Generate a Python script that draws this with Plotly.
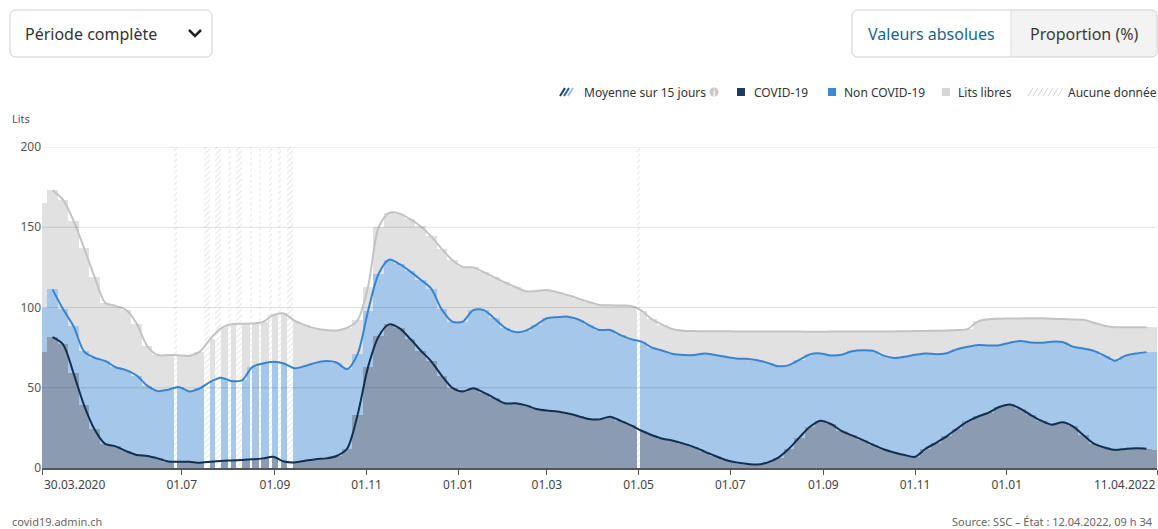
import plotly.graph_objects as go
import pandas as pd

# ---------------- data (weekly readings, 15-day average level) ----------------
start_date = "2020-03-30"
end_date = "2022-04-11"

covid = [72, 81.5, 77, 59, 39, 24, 15, 13.5, 10.5, 8.1,
         7.5, 6, 4, 3.9, 3.9, 3.3, 3.9, 4.4, 4.7, 5,
         5.4, 6, 7, 4, 3.5, 4.5, 5.5, 6, 7.5, 12,
         33, 63, 82, 89.5, 87, 80.5, 73.2, 66.5, 57.5, 50,
         47.6, 49.7, 47, 43.6, 40.3, 40.3, 39, 36.8, 35.8, 35.2,
         33.9, 32.3, 30.5, 30.3, 32, 29.4, 26.6, 23.2, 20.4, 18.2,
         17, 15.2, 13, 10.2, 7.5, 5, 3.5, 2.6, 2.2, 3.5,
         6.5, 12, 19, 25.7, 29.5, 27.4, 23.2, 20.3, 17.5, 14.5,
         11.7, 9.7, 8.1, 7, 12, 15.7, 19.7, 24.5, 29, 32.1,
         34.5, 38, 39.6, 37, 33, 29.5, 27, 28.5, 26, 20.5,
         15.2, 12.8, 11.3, 11.9, 12.3, 12, 11]

# occupied beds = COVID-19 + Non COVID-19
occupied = [100, 111.3, 99, 88.3, 72.6, 68.7, 66.7, 62.8, 61, 57.6,
            51.3, 47.9, 48.8, 50.5, 47.7, 49.6, 53.7, 56.3, 54.2, 54.6,
            62.9, 65.1, 66.2, 65.1, 62.2, 63.5, 65.5, 66.6, 65.7, 61.6,
            71, 98, 121, 129.8, 127, 122.5, 117.3, 111.8, 98.8, 91.2,
            91.2, 98.4, 98.4, 93.2, 87.5, 84.7, 85.6, 89.2, 93.3, 94,
            94.3, 92.5, 89, 86, 86, 82.8, 80.3, 78.7, 75, 73.1,
            71, 70.4, 70.4, 71.4, 70.4, 69.3, 68.3, 68, 67.1, 65.5,
            63.4, 64.1, 67.4, 70.8, 71.4, 70.1, 70.5, 72.7, 73.4, 73,
            70, 68.6, 69.3, 70.5, 71.4, 70.9, 71.5, 74, 75.5, 76.6,
            76.3, 76.5, 78.1, 79.1, 78.2, 78, 78.7, 78.5, 75.6, 74.4,
            73, 70, 66.9, 70, 71.3, 72.2, 72]

# total beds = occupied + Lits libres
total = [165, 173, 167, 154, 137, 119, 103, 101, 98.4, 90,
         76, 70.4, 70.4, 70.3, 69.8, 72.5, 80.5, 87, 89.6, 89.8,
         90, 91, 95.3, 96.3, 91.8, 89, 87, 86, 85.7, 87.3,
         92, 113, 150, 159, 158.5, 155, 150.5, 144.3, 136.5, 129.6,
         125.3, 125, 122, 118.8, 115.6, 112.8, 110.1, 110.3, 110.9, 109.5,
         107.7, 105.5, 103.4, 101.6, 101.4, 101.2, 101, 98, 92.6, 89.2,
         86.4, 85.5, 85.3, 85.2, 85.2, 85.2, 85.1, 85, 85, 85,
         85, 85, 85, 84.9, 84.9, 85, 85, 85, 85, 85,
         85, 85.1, 85.2, 85.3, 85.4, 85.5, 85.7, 86, 86.5, 91.4,
         92.7, 93, 93.1, 93.2, 93.3, 93.3, 93, 92.8, 92.6, 92.3,
         90.5, 88.6, 87.7, 87.7, 87.7, 87.7, 87.7]

no_data_days = ["2020-06-27", "2020-07-17", "2020-07-19", "2020-07-24", "2020-07-26",
                "2020-08-02", "2020-08-07", "2020-08-09", "2020-08-16", "2020-08-22",
                "2020-08-29", "2020-09-04", "2020-09-10", "2020-09-12", "2021-05-01"]

tick_dates = ["2020-03-30", "2020-07-01", "2020-09-01", "2020-11-01", "2021-01-01",
              "2021-03-01", "2021-05-01", "2021-07-01", "2021-09-01", "2021-11-01",
              "2022-01-01", "2022-04-11"]
tick_labels = ["30.03.2020", "01.07", "01.09", "01.11", "01.01", "01.03", "01.05",
               "01.07", "01.09", "01.11", "01.01", "11.04.2022"]
y_ticks = [0, 50, 100, 150, 200]

# ---------------- styling ----------------
FONT = "Noto Sans"
C_COVID_BAR = "#8b9cb2"
C_NONCOVID_BAR = "#a5c7ea"
C_FREE_BAR = "#e1e1e1"
C_COVID_LINE = "#112f50"
C_OCC_LINE = "#3a83cf"
C_TOT_LINE = "#c3c3c3"

W, H = 1158, 529
ML, MR, MT, MB = 42, 1, 147, 61
PW, PH = W - ML - MR, H - MT - MB
DAY = 86400000


def px(x):
    return (x - ML) / PW


def py(y):
    return (H - MB - y) / PH


weeks = pd.date_range(start_date, periods=len(covid), freq="7D")

fig = go.Figure()

bar_common = dict(width=7.05 * DAY, marker_line_width=0, hoverinfo="skip", showlegend=False)
fig.add_trace(go.Bar(x=weeks, y=total, marker_color=C_FREE_BAR, **bar_common))
fig.add_trace(go.Bar(x=weeks, y=occupied, marker_color=C_NONCOVID_BAR, **bar_common))
fig.add_trace(go.Bar(x=weeks, y=covid, marker_color=C_COVID_BAR, **bar_common))

# no-data days (hatched)
fig.add_trace(go.Bar(
    x=pd.to_datetime(no_data_days), y=[y_ticks[-1]] * len(no_data_days),
    width=1.8 * DAY, marker=dict(color="white", line_width=0,
                                 pattern=dict(shape="/", fgcolor="#e6e6e6", bgcolor="white",
                                              fillmode="replace", size=4, solidity=0.25)),
    hoverinfo="skip", showlegend=False))

# 15-day average lines (centered window -> first/last week absent)
line_common = dict(mode="lines", line_shape="spline", hoverinfo="skip", showlegend=False)
fig.add_trace(go.Scatter(x=weeks[1:-1], y=total[1:-1], line=dict(color=C_TOT_LINE, width=2, smoothing=0.8), **line_common))
fig.add_trace(go.Scatter(x=weeks[1:-1], y=occupied[1:-1], line=dict(color=C_OCC_LINE, width=2, smoothing=0.8), **line_common))
fig.add_trace(go.Scatter(x=weeks[1:-1], y=covid[1:-1], line=dict(color=C_COVID_LINE, width=2, smoothing=0.8), **line_common))

shapes = []
# gridlines above bars
for v in y_ticks[1:]:
    shapes.append(dict(type="line", xref="paper", yref="y", x0=0, x1=1, y0=v, y1=v,
                       line=dict(color="rgba(0,0,0,0.12)", width=1), layer="above"))


def rpath(x0, y0, x1, y1, rl, rr):
    p = f"M {px(x0+rl)},{py(y0)} L {px(x1-rr)},{py(y0)} "
    if rr:
        p += f"Q {px(x1)},{py(y0)} {px(x1)},{py(y0+rr)} L {px(x1)},{py(y1-rr)} Q {px(x1)},{py(y1)} {px(x1-rr)},{py(y1)} "
    else:
        p += f"L {px(x1)},{py(y0)} L {px(x1)},{py(y1)} "
    p += f"L {px(x0+rl)},{py(y1)} "
    if rl:
        p += f"Q {px(x0)},{py(y1)} {px(x0)},{py(y1-rl)} L {px(x0)},{py(y0+rl)} Q {px(x0)},{py(y0)} {px(x0+rl)},{py(y0)} "
    else:
        p += f"L {px(x0)},{py(y1)} L {px(x0)},{py(y0)} "
    return p + "Z"


# dropdown box
shapes.append(dict(type="path", xref="paper", yref="paper", path=rpath(10, 10, 212, 57, 6, 6),
                   fillcolor="white", line=dict(color="#cfcfcf", width=1)))
shapes.append(dict(type="path", xref="paper", yref="paper",
                   path=f"M {px(189)},{py(30)} L {px(195)},{py(36)} L {px(201)},{py(30)}",
                   line=dict(color="#222222", width=2.5)))
# toggle buttons
shapes.append(dict(type="path", xref="paper", yref="paper", path=rpath(852, 10, 1157, 57, 6, 6),
                   fillcolor="#f3f3f3", line=dict(width=0)))
shapes.append(dict(type="path", xref="paper", yref="paper", path=rpath(852, 10, 1011, 57, 6, 0),
                   fillcolor="white", line=dict(width=0)))
shapes.append(dict(type="line", xref="paper", yref="paper", x0=px(1011), x1=px(1011), y0=py(10), y1=py(57),
                   line=dict(color="#dddddd", width=1)))
shapes.append(dict(type="path", xref="paper", yref="paper", path=rpath(852, 10, 1157, 57, 6, 6),
                   fillcolor="rgba(0,0,0,0)", line=dict(color="#cfcfcf", width=1)))

# legend symbols
LY = 92
for i, col in enumerate(["#1d3f66", "#2c66a8", "#9dbfe3"]):
    x0 = 560 + 4 * i
    shapes.append(dict(type="line", xref="paper", yref="paper", x0=px(x0), x1=px(x0 + 5),
                       y0=py(LY + 4), y1=py(LY - 4), line=dict(color=col, width=2)))
shapes.append(dict(type="circle", xref="paper", yref="paper", x0=px(709.5), x1=px(718.5),
                   y0=py(LY - 4.5), y1=py(LY + 4.5), fillcolor="#c9c9c9", line=dict(width=0)))
for x0, col in [(737, "#1e3c5f"), (828, "#3d88d6"), (942, "#d6d6d6")]:
    shapes.append(dict(type="rect", xref="paper", yref="paper", x0=px(x0), x1=px(x0 + 8),
                       y0=py(LY + 4), y1=py(LY - 4), fillcolor=col, line=dict(width=0)))
for i in range(7):
    x0 = 1028 + 5 * i
    shapes.append(dict(type="line", xref="paper", yref="paper", x0=px(x0), x1=px(x0 + 5),
                       y0=py(LY + 4), y1=py(LY - 4), line=dict(color="#d4d4d4", width=1)))

annotations = []


def text(x, y, s, size=12, color="#333333", xanchor="left"):
    annotations.append(dict(xref="paper", yref="paper", x=px(x), y=py(y), text=s, showarrow=False,
                            xanchor=xanchor, yanchor="middle", font=dict(family=FONT, size=size, color=color)))


text(23, 34, "Période complète", 16, "#333333")
text(931.5, 34, "Valeurs absolues", 16, "#1b6590", "center")
text(1084, 34, "Proportion (%)", 16, "#3a3a3a", "center")
text(582, LY, "Moyenne sur 15 jours", 12)
text(714, LY, "<b>i</b>", 8, "white", "center")
text(752, LY, "COVID-19", 12)
text(842, LY, "Non COVID-19", 12)
text(956, LY, "Lits libres", 12)
text(1066, LY, "Aucune donnée", 12)
text(10, 118, "Lits", 11, "#555555")
text(10, 521, "covid19.admin.ch", 11, "#666666")
text(1155, 521, "Source: SSC – État : 12.04.2022, 09 h 34", 11, "#666666", "right")

# first / last x tick labels aligned inside the plot edges
for d, lab, anc in [(tick_dates[0], tick_labels[0], "left"), (tick_dates[-1], tick_labels[-1], "right")]:
    annotations.append(dict(xref="x", yref="paper", x=d, y=0, yshift=-6, text=lab, showarrow=False,
                            xanchor=anc, yanchor="top", font=dict(family=FONT, size=12, color="#444444")))

fig.update_layout(
    width=W, height=H,
    margin=dict(l=ML, r=MR, t=MT, b=MB, pad=0),
    paper_bgcolor="white", plot_bgcolor="white",
    barmode="overlay", bargap=0,
    font=dict(family=FONT, size=12, color="#444444"),
    showlegend=False, hovermode=False,
    shapes=shapes, annotations=annotations,
    xaxis=dict(type="date", range=[start_date, end_date],
               tickvals=tick_dates, ticktext=[""] + tick_labels[1:-1] + [""],
               ticks="outside", ticklen=5, tickcolor="#555555", tickwidth=1,
               showline=True, linecolor="#555555", linewidth=1.5,
               showgrid=False, zeroline=False,
               tickfont=dict(family=FONT, size=12, color="#444444")),
    yaxis=dict(range=[0, y_ticks[-1]], tickvals=y_ticks, ticks="", showgrid=False,
               zeroline=False, showline=False,
               tickfont=dict(family=FONT, size=12, color="#555555")),
)

fig.write_html("out.html", config={"displayModeBar": False},
               post_script="document.body.style.margin='0';document.body.style.overflow='hidden';")
